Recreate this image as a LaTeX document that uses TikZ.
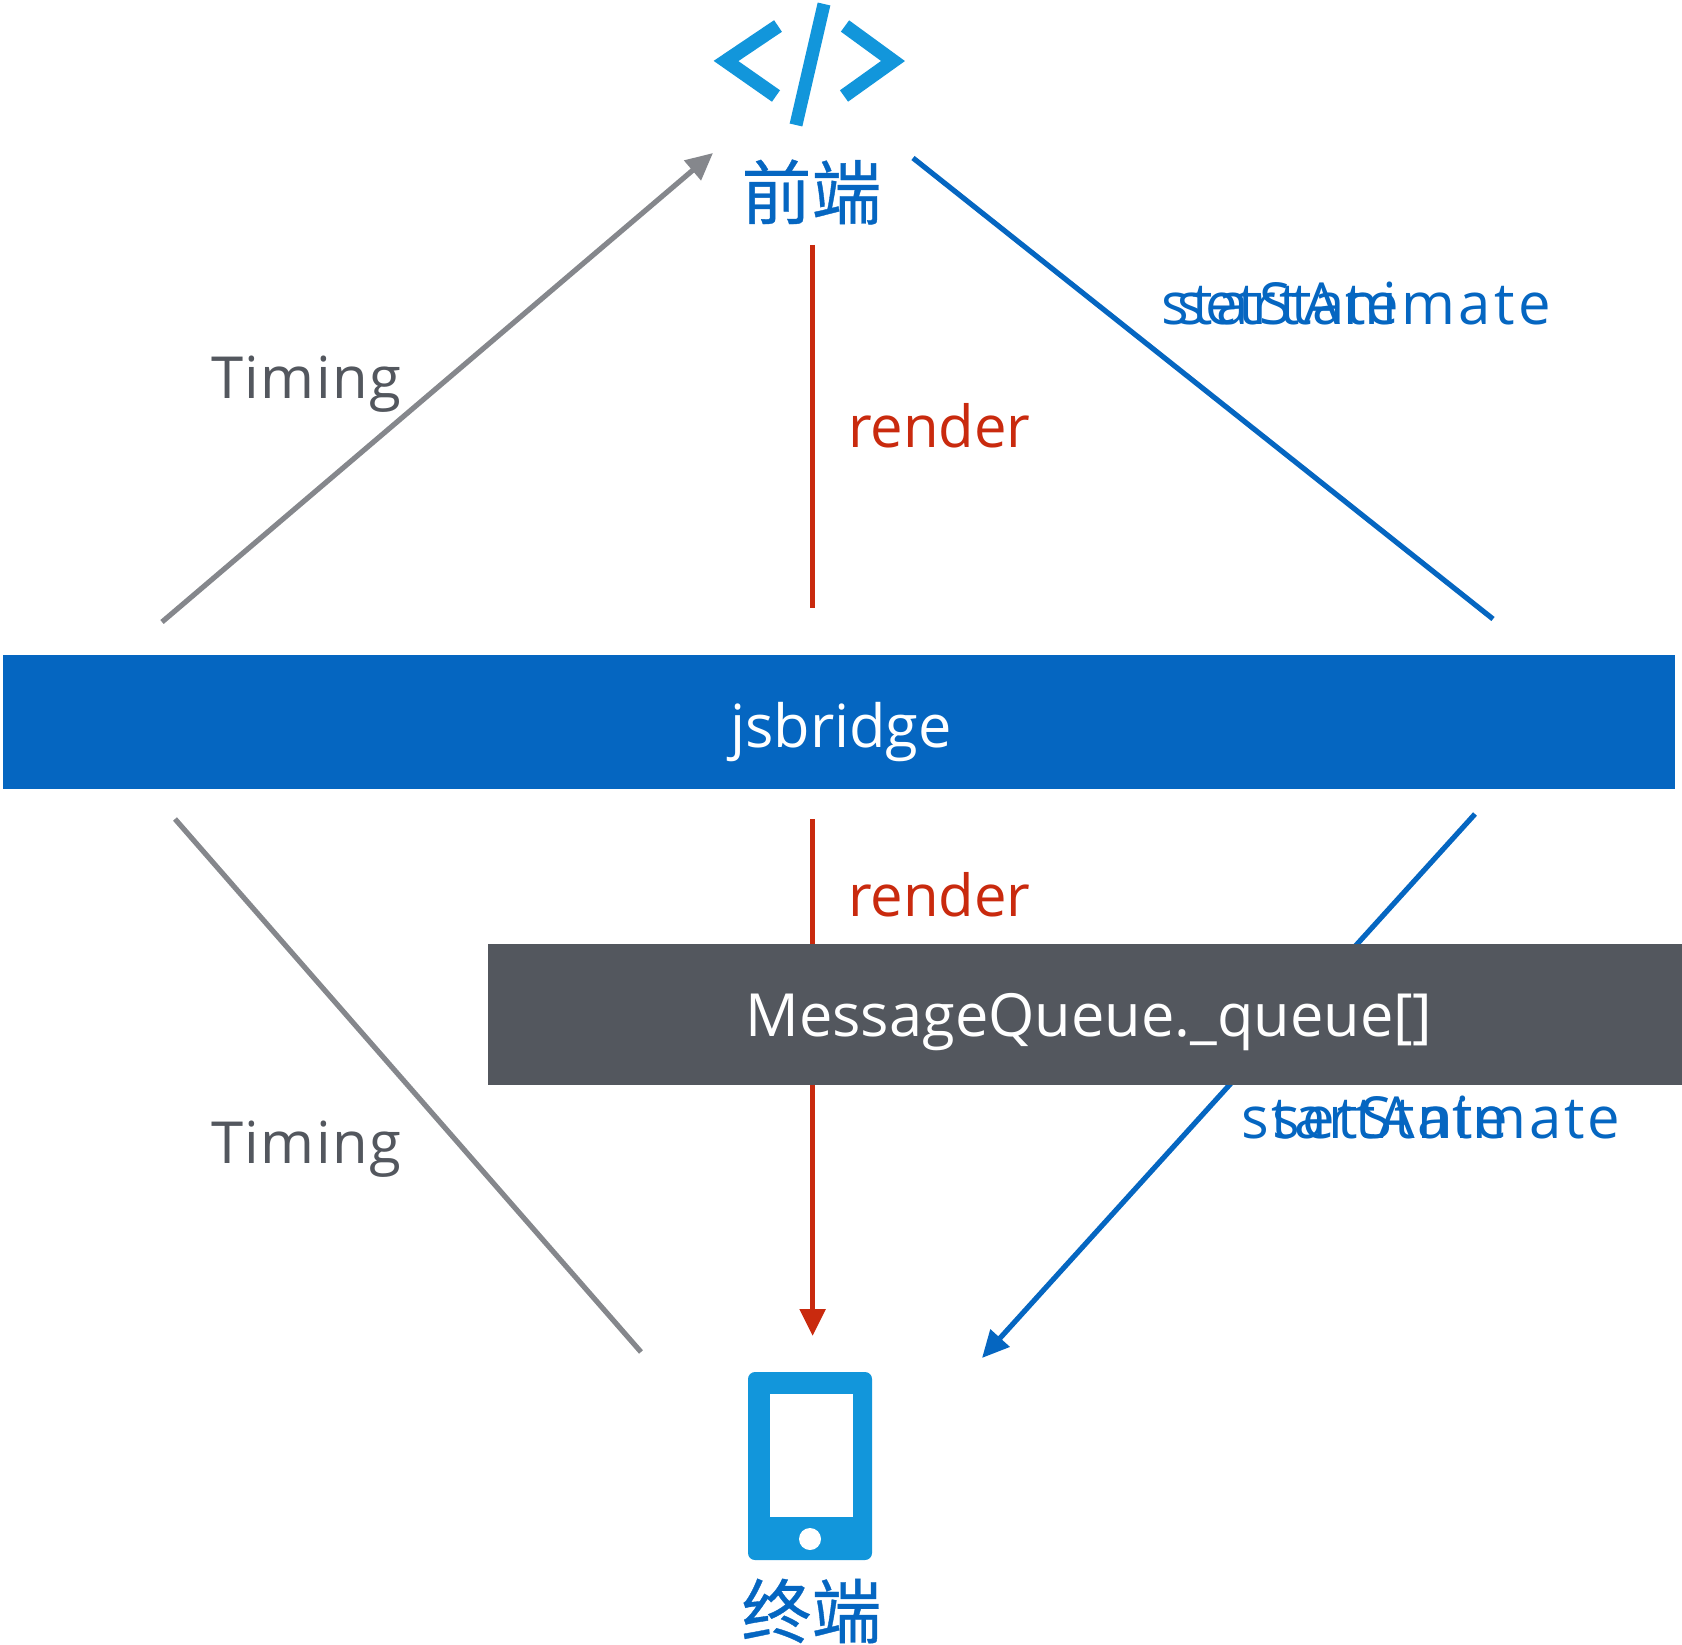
\documentclass[tikz,border=0pt]{standalone}
\usepackage{fontspec}
\setmainfont{Open Sans}
\newfontfamily\cjkfont[FakeBold=0.5]{Noto Sans CJK SC}
\newfontfamily\sparsea[LetterSpace=6.2]{Open Sans}
\newfontfamily\sparseb[LetterSpace=4.4]{Open Sans}
\newfontfamily\sparsec[LetterSpace=2.6]{Open Sans}
\newfontfamily\sparsed[LetterSpace=1.0]{Open Sans}
\usetikzlibrary{arrows.meta}
\definecolor{bluemain}{HTML}{0566C1}
\definecolor{iconblue}{HTML}{1296DB}
\definecolor{darkbox}{HTML}{53575E}
\definecolor{redline}{HTML}{C92A0E}
\definecolor{grayline}{HTML}{85878C}
\definecolor{graytext}{HTML}{53575E}
\tikzset{
  conn/.style={line width=5.2pt},
  tipped/.style={-{Triangle[length=27pt,width=25pt]}},
  lab/.style={anchor=base west,inner sep=0pt,outer sep=0pt,font=\fontsize{58}{58}\selectfont},
  barlab/.style={inner sep=0pt,text=white,font=\fontsize{59.5}{60}\selectfont},
  cjk/.style={inner sep=0pt,text=bluemain,font=\cjkfont\fontsize{70}{70}\selectfont},
  icon/.style={draw=iconblue,line cap=butt,line join=miter}
}
\begin{document}
\begin{tikzpicture}[x=1pt,y=-1pt]
\useasboundingbox (0,0) rectangle (1682,1645);
\fill[white] (0,0) rectangle (1682,1645);
% free ends
\coordinate (gaS) at (162,622);
\coordinate (gaE) at (713,153);
\coordinate (baS) at (913,158);
\coordinate (baE) at (1493,619);
\coordinate (raS) at (812.6,245);
\coordinate (raE) at (812.6,608);
\coordinate (gbS) at (175,819);
\coordinate (gbE) at (641,1352);
\coordinate (rbS) at (812.6,819);
\coordinate (rbE) at (812.6,1336);
\coordinate (bbS) at (1475,814);
\coordinate (bbE) at (982,1358);
% connectors
\draw[conn,grayline,tipped] (gaS) -- (gaE);
\draw[conn,bluemain] (baS) -- (baE);
\draw[conn,redline] (raS) -- (raE);
\draw[conn,grayline] (gbS) -- (gbE);
\draw[conn,redline,tipped] (rbS) -- (rbE);
\draw[conn,bluemain,tipped] (bbS) -- (bbE);
% bars
\node[fill=bluemain,minimum width=1672pt,minimum height=134pt,inner sep=0pt] (bridge) at (839,722) {};
\node[barlab] (bridgelab) at (841,732) {jsbridge};
\node[fill=darkbox,minimum width=1194pt,minimum height=141pt,inner sep=0pt] (queue) at (1085,1014) {};
\node[barlab] (queuelab) at (1089,1022) {MessageQueue.\_queue[]};
% labels
\node[lab,text=graytext] (t1) at (211,399) {\sparsec Timing};
\node[lab,text=graytext] (t2) at (211,1163) {\sparsec Timing};
\node[lab,text=redline] (r1) at (848,447) {render};
\node[lab,text=redline] (r2) at (848,916) {render};
\node[lab,text=bluemain] (s1) at (1161,325) {\sparsea startAnimate};
\node[lab,text=bluemain] (s2) at (1177,325) {\sparsed setState};
\node[lab,text=bluemain] (s3) at (1241,1138) {\sparseb startAnimate};
\node[lab,text=bluemain] (s4) at (1272,1138) {\sparseb setState};
% code icon
\draw[icon,line width=14pt] (778,26) -- (726,61) -- (776,96);
\draw[icon,line width=14pt] (845,26) -- (893,61) -- (844,96);
\draw[icon,line width=13pt] (824,4) -- (796,125);
\node[cjk] (front) at (811.5,192) {前端};
% phone icon
\fill[iconblue,rounded corners=7pt] (748,1372) rectangle (872,1560);
\fill[white] (769.5,1393.5) rectangle (853,1517);
\fill[white] (810,1539) circle (11pt);
\node[cjk] (term) at (811.5,1611) {终端};
\end{tikzpicture}
\end{document}
